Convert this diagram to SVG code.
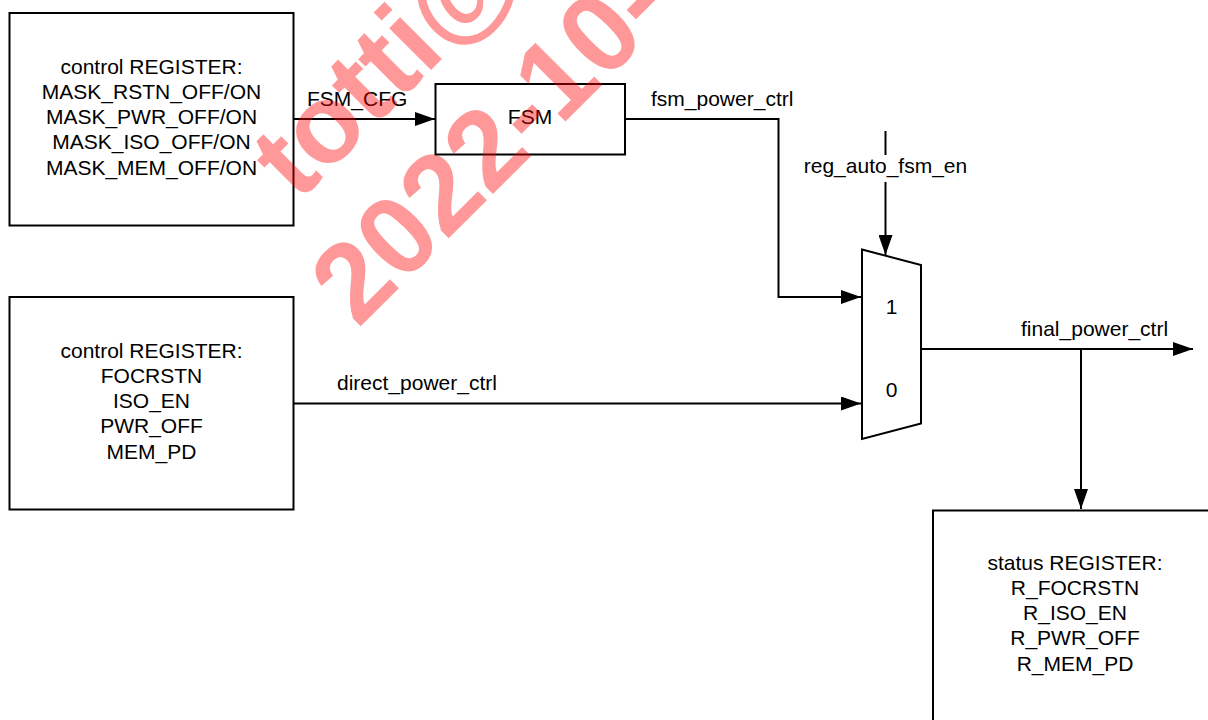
<svg xmlns="http://www.w3.org/2000/svg" width="1208" height="720" viewBox="0 0 1208 720">
  <defs>
    <marker id="arrow" markerUnits="userSpaceOnUse" markerWidth="20" markerHeight="14" refX="20" refY="7" orient="auto">
      <path d="M0,0 L20,7 L0,14 Z" fill="#000"/>
    </marker>
  </defs>
  <style>
    text { font-family: "Liberation Sans", Arial, sans-serif; font-size: 21px; fill: #000; }
    .c { text-anchor: middle; }
    .box { fill: #fff; stroke: #000; stroke-width: 2; }
    .wire { fill: none; stroke: #000; stroke-width: 2; }
    .wm { font-family: "Liberation Sans", Arial, sans-serif; font-weight: bold; font-size: 112px; fill: #ff0000; fill-opacity: 0.4; }
  </style>
  <rect width="1208" height="720" fill="#fff"/>

  <g id="connectors">
    <line class="wire" x1="294" y1="119" x2="435" y2="119" marker-end="url(#arrow)"/>
    <text x="307" y="106">FSM_CFG</text>
    <polyline class="wire" points="625,119 778.5,119 778.5,297 861,297" marker-end="url(#arrow)"/>
    <text x="651" y="106">fsm_power_ctrl</text>
    <line class="wire" x1="885.5" y1="131" x2="885.5" y2="155"/>
    <line class="wire" x1="885.5" y1="182" x2="885.5" y2="255" marker-end="url(#arrow)"/>
    <text class="c" x="885.5" y="173">reg_auto_fsm_en</text>
    <line class="wire" x1="294" y1="403.5" x2="861" y2="403.5" marker-end="url(#arrow)"/>
    <text x="337" y="390">direct_power_ctrl</text>
    <line class="wire" x1="921" y1="349" x2="1193" y2="349" marker-end="url(#arrow)"/>
    <text x="1021" y="336">final_power_ctrl</text>
    <line class="wire" x1="1081" y1="349" x2="1081" y2="509" marker-end="url(#arrow)"/>
  </g>

  <g id="ctrl-mask-reg">
    <rect class="box" x="9.5" y="13" width="284" height="212.5"/>
    <text class="c" x="151.5" y="73.5">control REGISTER:</text>
    <text class="c" x="151.5" y="98.8">MASK_RSTN_OFF/ON</text>
    <text class="c" x="151.5" y="124.1">MASK_PWR_OFF/ON</text>
    <text class="c" x="151.5" y="149.4">MASK_ISO_OFF/ON</text>
    <text class="c" x="151.5" y="174.7">MASK_MEM_OFF/ON</text>
  </g>

  <g id="ctrl-direct-reg">
    <rect class="box" x="9.5" y="297" width="284" height="212.5"/>
    <text class="c" x="151.5" y="357.5">control REGISTER:</text>
    <text class="c" x="151.5" y="382.8">FOCRSTN</text>
    <text class="c" x="151.5" y="408.1">ISO_EN</text>
    <text class="c" x="151.5" y="433.4">PWR_OFF</text>
    <text class="c" x="151.5" y="458.7">MEM_PD</text>
  </g>

  <g id="fsm">
    <rect class="box" x="435.5" y="84" width="189.5" height="70.5"/>
    <text class="c" x="530" y="123.5">FSM</text>
  </g>

  <g id="mux">
    <polygon class="box" points="862,249.5 921,265 921,423.5 862,439"/>
    <text class="c" x="891.5" y="313.5">1</text>
    <text class="c" x="891.5" y="396.5">0</text>
  </g>

  <g id="status-reg">
    <rect class="box" x="933" y="510.5" width="284" height="230"/>
    <text class="c" x="1075" y="569.5">status REGISTER:</text>
    <text class="c" x="1075" y="594.8">R_FOCRSTN</text>
    <text class="c" x="1075" y="620.1">R_ISO_EN</text>
    <text class="c" x="1075" y="645.4">R_PWR_OFF</text>
    <text class="c" x="1075" y="670.7">R_MEM_PD</text>
  </g>

  <g id="watermark">
    <text class="wm" transform="translate(298,203) rotate(-45)">totti@</text>
    <text class="wm" transform="translate(358,329) rotate(-45)">2022-10-</text>
  </g>
</svg>
